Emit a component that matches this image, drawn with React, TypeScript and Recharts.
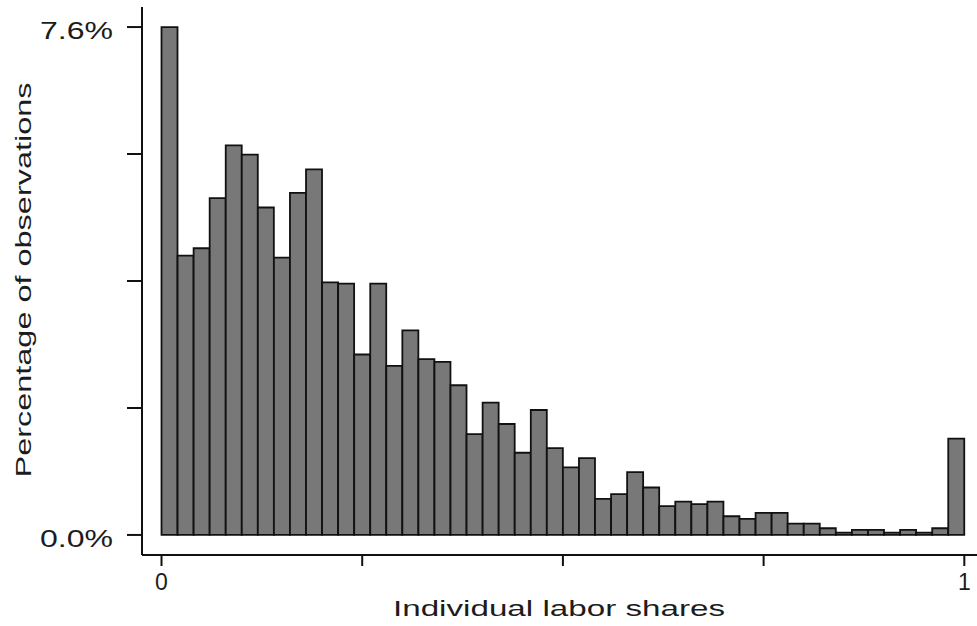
import React from "react";
import { BarChart, Bar, XAxis, YAxis } from "recharts";

// Bin centres (bin width 0.02)
const binCenters = [
  0.01, 0.03, 0.05, 0.07, 0.09, 0.11, 0.13, 0.15, 0.17, 0.19,
  0.21, 0.23, 0.25, 0.27, 0.29, 0.31, 0.33, 0.35, 0.37, 0.39,
  0.41, 0.43, 0.45, 0.47, 0.49, 0.51, 0.53, 0.55, 0.57, 0.59,
  0.61, 0.63, 0.65, 0.67, 0.69, 0.71, 0.73, 0.75, 0.77, 0.79,
  0.81, 0.83, 0.85, 0.87, 0.89, 0.91, 0.93, 0.95, 0.97, 0.99,
];

// Percentage of observations per bin
const percentages = [
  7.6, 4.18, 4.29, 5.04, 5.83, 5.69, 4.9, 4.15, 5.12, 5.47,
  3.78, 3.76, 2.7, 3.76, 2.53, 3.06, 2.63, 2.59, 2.24, 1.51,
  1.98, 1.66, 1.23, 1.87, 1.3, 1.01, 1.15, 0.54, 0.61, 0.94,
  0.71, 0.43, 0.5, 0.46, 0.5, 0.28, 0.24, 0.33, 0.33, 0.17,
  0.17, 0.1, 0.035, 0.075, 0.075, 0.035, 0.075, 0.035, 0.1, 1.44,
];

const yTicks = [0, 1.9, 3.8, 5.7, 7.6];
const yTickLabels: Record<string, string> = { "0": "0.0%", "7.6": "7.6%" };
const xTicks = [0, 0.25, 0.5, 0.75, 1];
const xTickLabels: Record<string, string> = { "0": "0", "1": "1" };

const data = binCenters.map((c, i) => ({ share: c, pct: percentages[i] }));

const FONT = "'Liberation Sans', Arial, Helvetica, sans-serif";
const TEXT_COLOR = "#1c1c1c";

const YTick = (props: any) => {
  const { x, y, payload } = props;
  const label = yTickLabels[String(payload.value)];
  if (!label) return null;
  return (
    <text
      x={x}
      y={y + 12}
      textAnchor="end"
      fontFamily={FONT}
      fontSize={23}
      fill={TEXT_COLOR}
      textLength={73}
      lengthAdjust="spacingAndGlyphs"
    >
      {label}
    </text>
  );
};

const XTick = (props: any) => {
  const { x, y, payload } = props;
  const label = xTickLabels[String(payload.value)];
  if (!label) return null;
  return (
    <text
      x={x}
      y={y + 22}
      textAnchor="middle"
      fontFamily={FONT}
      fontSize={23}
      fill={TEXT_COLOR}
    >
      {label}
    </text>
  );
};

export default function App() {
  return (
    <div style={{ position: "absolute", left: 0, top: 0, background: "#fff" }}>
      <BarChart
        width={977}
        height={626}
        data={data}
        margin={{ top: 7, right: 0, left: 0, bottom: 0 }}
        barCategoryGap={0}
        barGap={0}
      >
        <XAxis
          dataKey="share"
          type="number"
          domain={[-0.0243, 1.0158]}
          allowDataOverflow
          ticks={xTicks}
          interval={0}
          height={71}
          tickSize={11}
          tickMargin={2}
          axisLine={{ stroke: "#111", strokeWidth: 2 }}
          tickLine={{ stroke: "#111", strokeWidth: 2 }}
          tick={<XTick />}
          label={{
            content: () => (
              <text
                x={559}
                y={616}
                textAnchor="middle"
                fontFamily={FONT}
                fontSize={22}
                fill={TEXT_COLOR}
                textLength={332}
                lengthAdjust="spacingAndGlyphs"
              >
                Individual labor shares
              </text>
            ),
          }}
        />
        <YAxis
          type="number"
          domain={[-0.3, 7.9]}
          allowDataOverflow
          ticks={yTicks}
          interval={0}
          width={142}
          tickSize={15}
          tickMargin={14}
          axisLine={{ stroke: "#111", strokeWidth: 2 }}
          tickLine={{ stroke: "#111", strokeWidth: 2 }}
          tick={<YTick />}
          label={{
            content: () => (
              <text
                x={31}
                y={280}
                transform="rotate(-90 31 280)"
                textAnchor="middle"
                fontFamily={FONT}
                fontSize={22}
                fill={TEXT_COLOR}
                textLength={395}
                lengthAdjust="spacingAndGlyphs"
              >
                Percentage of observations
              </text>
            ),
          }}
        />
        <Bar
          dataKey="pct"
          fill="#787878"
          stroke="#111"
          strokeWidth={1.8}
          isAnimationActive={false}
        />
      </BarChart>
    </div>
  );
}
